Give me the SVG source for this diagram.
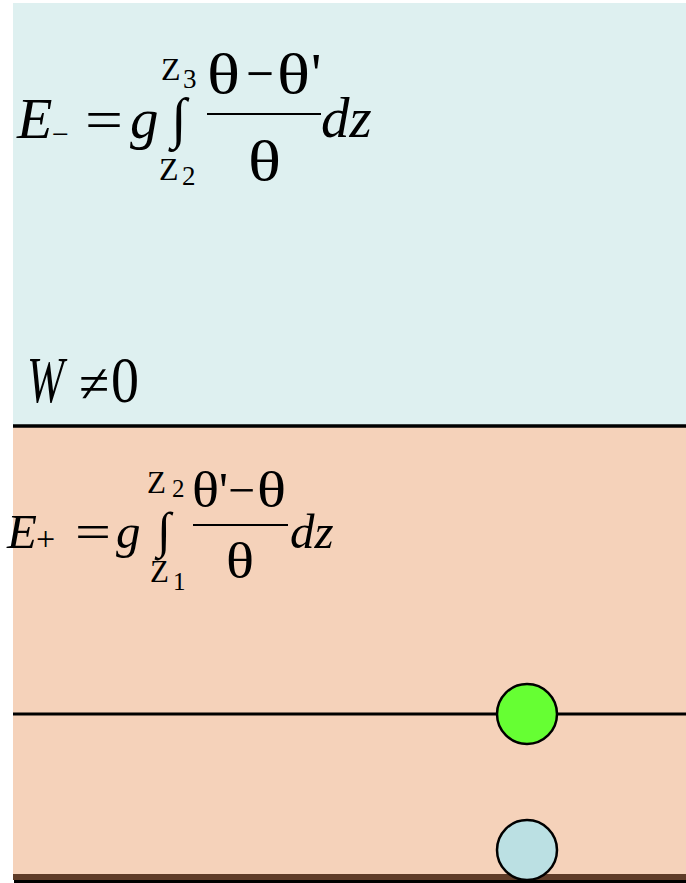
<svg xmlns="http://www.w3.org/2000/svg" width="686" height="883" viewBox="0 0 686 883">
<style>
.t{font-family:"Liberation Serif","DejaVu Serif","Times New Roman",serif;fill:#000}
.i{font-style:italic}
.ln{stroke:#000;fill:none}
.node{stroke:#000;stroke-width:2.5}
</style>
<rect x="0" y="0" width="686" height="883" fill="#fff"/>
<g id="upper-layer">
<rect x="13" y="3" width="673" height="424" fill="#DEF0F0"/>
</g>
<g id="lower-layer">
<rect x="13" y="427" width="673" height="448" fill="#F5D2BA"/>
<rect x="13" y="874" width="673" height="6" fill="#5F3C28"/>
<rect x="14" y="880" width="672" height="3" fill="#000"/>
</g>
<g id="connectors">
<line class="ln" x1="13" y1="426" x2="686" y2="426" stroke-width="3.5"/>
<line class="ln" x1="13" y1="714" x2="686" y2="714" stroke-width="3"/>
</g>
<g id="formula-minus">
<text class="t i" x="17" y="138" font-size="58">E</text>
<text class="t" x="52" y="144" font-size="30">−</text>
<text class="t" x="85" y="139" font-size="57" textLength="38" lengthAdjust="spacingAndGlyphs">=</text>
<text class="t i" x="130" y="138" font-size="57">g</text>
<text class="t" x="171" y="137" font-size="56">∫</text>
<text class="t" x="161" y="80" font-size="32">Z</text>
<text class="t" x="183" y="88" font-size="27">3</text>
<text class="t" x="159" y="180" font-size="32">Z</text>
<text class="t" x="182" y="185" font-size="27">2</text>
<text class="t" x="207" y="93" font-size="58" textLength="33" lengthAdjust="spacingAndGlyphs">θ</text>
<text class="t" x="246" y="93" font-size="58" textLength="28" lengthAdjust="spacingAndGlyphs">−</text>
<text class="t" x="277" y="93" font-size="58" textLength="33" lengthAdjust="spacingAndGlyphs">θ</text>
<text class="t" x="311" y="93" font-size="58">'</text>
<line class="ln" x1="207" y1="114" x2="321" y2="114" stroke-width="2"/>
<text class="t" x="248" y="180" font-size="58" textLength="33" lengthAdjust="spacingAndGlyphs">θ</text>
<text class="t i" x="321" y="137" font-size="57">dz</text>
</g>
<g id="w-label">
<text class="t i" x="27" y="402" font-size="66" textLength="37" lengthAdjust="spacingAndGlyphs">W</text>
<text class="t" x="79" y="402" font-size="55">≠</text>
<text class="t" x="111" y="402" font-size="66" textLength="28" lengthAdjust="spacingAndGlyphs">0</text>
</g>
<g id="formula-plus">
<text class="t i" x="7" y="548" font-size="49">E</text>
<text class="t" x="36" y="550" font-size="34">+</text>
<text class="t" x="75" y="548" font-size="49" textLength="36" lengthAdjust="spacingAndGlyphs">=</text>
<text class="t i" x="116" y="548" font-size="49">g</text>
<text class="t" x="157" y="547" font-size="50">∫</text>
<text class="t" x="147" y="493" font-size="31">Z</text>
<text class="t" x="172" y="497" font-size="25">2</text>
<text class="t" x="150" y="582" font-size="31">Z</text>
<text class="t" x="173" y="590" font-size="25">1</text>
<text class="t" x="192" y="507" font-size="50" textLength="27" lengthAdjust="spacingAndGlyphs">θ</text>
<text class="t" x="219" y="507" font-size="50">'</text>
<text class="t" x="228" y="507" font-size="50" textLength="27" lengthAdjust="spacingAndGlyphs">−</text>
<text class="t" x="257" y="507" font-size="50" textLength="29" lengthAdjust="spacingAndGlyphs">θ</text>
<line class="ln" x1="193" y1="525" x2="288" y2="525" stroke-width="2"/>
<text class="t" x="226" y="578" font-size="50" textLength="28" lengthAdjust="spacingAndGlyphs">θ</text>
<text class="t i" x="290" y="548" font-size="49">dz</text>
</g>
<g id="green-ball">
<circle class="node" cx="527" cy="714" r="30" fill="#66FF33"/>
</g>
<g id="blue-ball">
<circle class="node" cx="527" cy="850" r="30" fill="#BBE0E3"/>
</g>
</svg>
